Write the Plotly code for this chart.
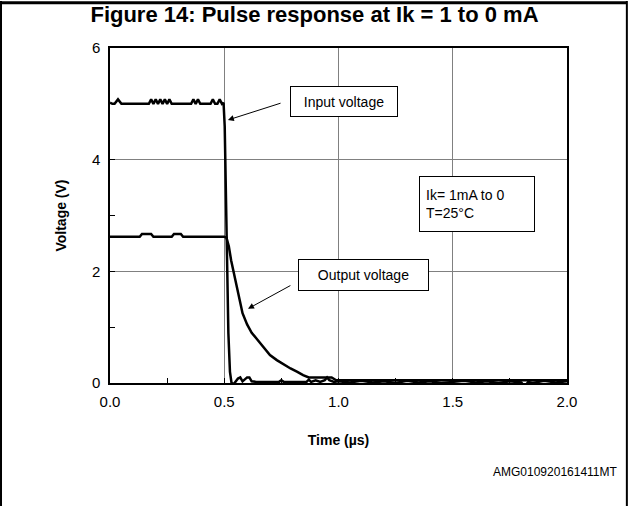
import plotly.graph_objects as go

FONT = "Arial, Liberation Sans, sans-serif"

# Input voltage trace (time in µs, voltage in V)
input_t = [0.0, 0.01, 0.02, 0.035, 0.05, 0.17, 0.18, 0.19, 0.2, 0.21, 0.22, 0.23, 0.24,
           0.25, 0.26, 0.27, 0.355, 0.365, 0.375, 0.385, 0.395, 0.44, 0.45, 0.46, 0.47,
           0.48, 0.49, 0.497, 0.502, 0.507, 0.512, 0.518, 0.525, 0.533, 0.545, 0.56, 0.57,
           0.58, 0.6, 0.61, 0.62, 0.64, 0.74, 0.75, 0.76, 0.86, 0.87, 0.88, 0.9, 0.92,
           0.94, 0.95, 0.96, 0.98, 1.0, 1.05, 1.1, 1.15, 1.2, 1.25, 1.3, 1.35, 1.4, 1.45,
           1.5, 1.55, 1.6, 1.65, 1.7, 1.75, 1.8, 1.815, 1.83, 1.85, 1.9, 1.95, 2.0]
input_v = [5.02, 5.0, 5.0, 5.08, 5.0, 5.0, 5.08, 5.0, 5.08, 5.0, 5.08, 5.0, 5.08,
           5.0, 5.08, 5.0, 5.0, 5.08, 5.0, 5.08, 5.0, 5.0, 5.08, 5.0, 5.0,
           5.08, 5.0, 5.02, 4.6, 3.4, 2.0, 0.9, 0.2, -0.03, 0.0, 0.08, 0.1,
           0.03, 0.1, 0.1, 0.03, 0.02, 0.02, 0.05, 0.02, 0.02, 0.06, 0.02, 0.05, 0.02,
           0.05, 0.1, 0.05, 0.02, 0.03, 0.01, 0.04, 0.01, 0.03, 0.0, 0.04, 0.01, 0.03, 0.0,
           0.02, 0.04, 0.01, 0.03, 0.0, 0.03, 0.01, -0.07, 0.02, 0.0, 0.04, 0.01, 0.03]

# Output voltage trace
output_t = [0.0, 0.13, 0.14, 0.18, 0.19, 0.27, 0.28, 0.31, 0.32, 0.5, 0.51, 0.52, 0.53,
            0.545, 0.56, 0.58, 0.6, 0.62, 0.64, 0.66, 0.68, 0.7, 0.73, 0.76, 0.79, 0.82,
            0.845, 0.87, 0.95, 0.97, 0.99, 1.1, 1.2, 1.3, 1.4, 1.5, 1.6, 1.7, 1.8, 1.9, 2.0]
output_v = [2.62, 2.62, 2.67, 2.67, 2.62, 2.62, 2.67, 2.67, 2.62, 2.62, 2.6, 2.45, 2.2,
            1.9, 1.6, 1.25, 1.05, 0.9, 0.8, 0.7, 0.6, 0.5, 0.41, 0.33, 0.26, 0.2,
            0.14, 0.1, 0.1, 0.1, 0.05, 0.05, 0.04, 0.05, 0.05, 0.04, 0.05, 0.05, 0.04, 0.05, 0.05]

fig = go.Figure()
fig.add_trace(go.Scatter(x=input_t, y=input_v, mode="lines", name="Input voltage",
                         line=dict(color="black", width=2.5)))
fig.add_trace(go.Scatter(x=output_t, y=output_v, mode="lines", name="Output voltage",
                         line=dict(color="black", width=2.5)))

box = dict(bordercolor="black", borderwidth=1, borderpad=6, bgcolor="white",
           font=dict(family=FONT, size=14, color="black"), showarrow=False,
           xref="x", yref="y")
arrow = dict(text="", showarrow=True, arrowhead=2, arrowsize=1.2, arrowwidth=1,
             arrowcolor="black", xref="x", yref="y", axref="x", ayref="y")

annotations = [
    dict(x=1.024, y=5.04, text="Input voltage", width=94, height=17, **box),
    dict(x=1.109, y=1.934, text="Output voltage", width=117, height=18, **box),
    dict(x=1.606, y=3.206, text="Ik= 1mA to 0<br>T=25°C", width=102, height=42,
         align="left", **box),
    dict(x=0.516, y=4.71, ax=0.753, ay=5.02, **arrow),
    dict(x=0.604, y=1.33, ax=0.796, ay=1.76, **arrow),
    dict(x=1.116, y=-0.266, xref="paper", yref="paper", xanchor="right", yanchor="middle",
         text="AMG010920161411MT", showarrow=False,
         font=dict(family=FONT, size=12, color="black")),
]

# figure frame (top, left, right)
frame = [
    dict(type="line", xref="paper", yref="paper", x0=-0.2385, x1=1.131, y0=1.135, y1=1.135,
         line=dict(color="black", width=3)),
    dict(type="line", xref="paper", yref="paper", x0=-0.2385, x1=-0.2385, y0=1.14, y1=-0.45,
         line=dict(color="black", width=2)),
    dict(type="line", xref="paper", yref="paper", x0=1.131, x1=1.131, y0=1.14, y1=-0.45,
         line=dict(color="black", width=2)),
]

fig.update_layout(
    width=629,
    height=506,
    margin=dict(l=110, r=62, t=48, b=123),
    paper_bgcolor="white",
    plot_bgcolor="white",
    showlegend=False,
    font=dict(family=FONT, color="black"),
    title=dict(text="<b>Figure 14: Pulse response at Ik = 1 to 0 mA</b>", x=0.5, xref="container",
               xanchor="center", y=0.972, yref="container", yanchor="middle",
               font=dict(family=FONT, size=22, color="black")),
    annotations=annotations,
    shapes=frame,
    xaxis=dict(
        range=[0, 2], tickvals=[0, 0.5, 1.0, 1.5, 2.0], ticktext=["0.0", "0.5", "1.0", "1.5", "2.0"],
        showgrid=True, gridcolor="#808080", gridwidth=1, zeroline=False,
        showline=True, linecolor="black", linewidth=1.5, mirror=True,
        ticks="inside", ticklen=5, tickcolor="black", ticklabelstandoff=4,
        minor=dict(tickvals=[0.25, 0.75, 1.25, 1.75], ticks="inside", ticklen=5, tickcolor="black"),
        tickfont=dict(family=FONT, size=15, color="black"),
        title=dict(text="<b>Time (µs)</b>", font=dict(family=FONT, size=14, color="black"), standoff=26),
    ),
    yaxis=dict(
        range=[0, 6], tickvals=[0, 2, 4, 6],
        showgrid=True, gridcolor="#808080", gridwidth=1, zeroline=False,
        showline=True, linecolor="black", linewidth=1.5, mirror=True,
        ticks="inside", ticklen=5, tickcolor="black", ticklabelstandoff=5,
        minor=dict(tickvals=[1, 3, 5], ticks="inside", ticklen=5, tickcolor="black"),
        tickfont=dict(family=FONT, size=15, color="black"),
        title=dict(text="<b>Voltage (V)</b>", font=dict(family=FONT, size=14, color="black"), standoff=22),
    ),
)

fig.write_html("out.html", config={"displayModeBar": False},
               post_script="document.body.style.margin='0';")
